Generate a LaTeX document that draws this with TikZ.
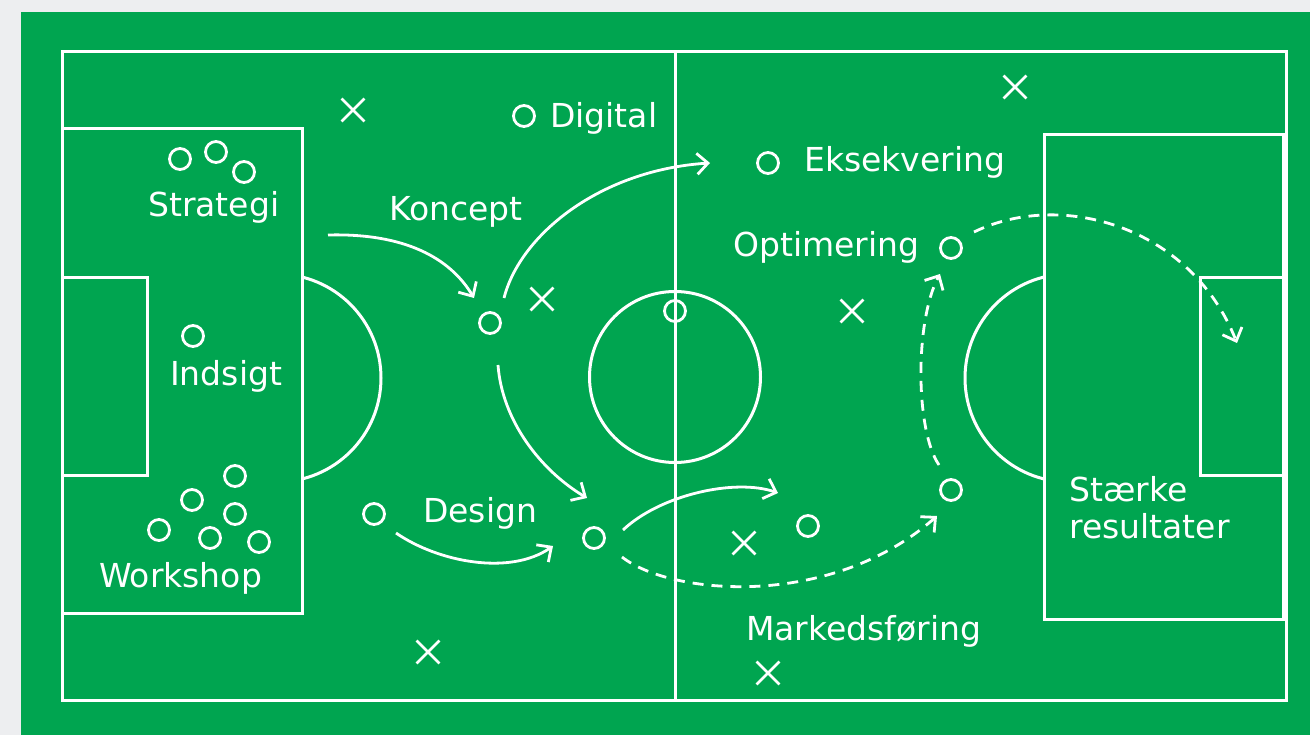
\documentclass[tikz,border=0pt]{standalone}
\usepackage{fontspec}
\setmainfont{DejaVu Sans}
\usetikzlibrary{arrows.meta,shapes.misc}
\definecolor{pitch}{RGB}{0,165,80}
\definecolor{bggray}{RGB}{237,238,240}
\tikzset{
  fieldline/.style={draw=white, line width=3pt},
  player/.style={circle, draw=white, line width=2.8pt, minimum size=21pt, inner sep=0pt},
  xmark/.style={cross out, draw=white, line width=2.8pt, minimum size=20pt, inner sep=0pt},
  lbl/.style={text=white, inner sep=0pt, anchor=base west, font=\fontsize{33}{37}\selectfont},
  runarrow/.style={draw=white, line width=2.8pt, -{Straight Barb[length=11pt,width=21pt]}},
  passarrow/.style={runarrow, dash pattern=on 11pt off 8pt}
}
\begin{document}
\begin{tikzpicture}[x=1pt,y=-1pt]
\useasboundingbox (0,0) rectangle (1310,735);
\fill[bggray] (0,0) rectangle (1310,735);
\fill[pitch] (21,12) rectangle (1310,735);
% field markings
\draw[fieldline] (62,52) rectangle (1286,700);
\draw[fieldline] (675,52) -- (675,700);
\draw[fieldline] (675,377) circle (85.5);
\draw[fieldline] (62,129) rectangle (302,613);
\draw[fieldline] (62,278) rectangle (147,475);
\draw[fieldline] (1044,135) rectangle (1283,619);
\draw[fieldline] (1200,278) rectangle (1283,475);
\begin{scope}
  \clip (302,0) rectangle (675,735);
  \draw[fieldline] (277,378) circle (104);
\end{scope}
\begin{scope}
  \clip (0,0) rectangle (1044,735);
  \draw[fieldline] (1069,378) circle (104);
\end{scope}
% players
\node[player] (s1) at (180,159) {};
\node[player] (s2) at (216,152) {};
\node[player] (s3) at (244,172) {};
\node[player] (ind) at (193,336) {};
\node[player] (w1) at (235,476) {};
\node[player] (w2) at (192,500) {};
\node[player] (w3) at (235,514) {};
\node[player] (w4) at (159,530) {};
\node[player] (w5) at (210,538) {};
\node[player] (w6) at (259,542) {};
\node[player] (kon) at (490,323) {};
\node[player] (dig) at (524,116) {};
\node[player] (eks) at (768,163) {};
\node[player] (opt) at (951,248) {};
\node[player] (mid) at (675,311) {};
\node[player] (des1) at (374,514) {};
\node[player] (des2) at (594,538) {};
\node[player] (mk1) at (808,526) {};
\node[player] (mk2) at (951,490) {};
% opponents
\node[xmark] (x1) at (353,110) {};
\node[xmark] (x2) at (542,299) {};
\node[xmark] (x3) at (428,652) {};
\node[xmark] (x4) at (852,311) {};
\node[xmark] (x5) at (1015,87) {};
\node[xmark] (x6) at (744,543) {};
\node[xmark] (x7) at (768,673) {};
% labels
\node[lbl] (tStrategi) at (148,217) {Strategi};
\node[lbl] (tIndsigt) at (170,386) {Indsigt};
\node[lbl] (tWorkshop) at (99,587) {Workshop};
\node[lbl] (tKoncept) at (389,221) {Koncept};
\node[lbl] (tDigital) at (550,128) {Digital};
\node[lbl] (tEks) at (804,172) {Eksekvering};
\node[lbl] (tOpt) at (733,257) {Optimering};
\node[lbl] (tDesign) at (423,522) {Design};
\node[lbl] (tMark) at (746,640) {Markedsføring};
\node[lbl] (tStaerke) at (1069,501) {Stærke};
\node[lbl] (tRes) at (1069,538) {resultater};
% arrow end points
\coordinate (a1s) at (328,235);
\coordinate (a1e) at (474,298);
\coordinate (a2s) at (504,298);
\coordinate (a2e) at (710,163);
\coordinate (a3s) at (498,365);
\coordinate (a3e) at (587,498);
\coordinate (a4s) at (396,533);
\coordinate (a4e) at (553,546);
\coordinate (a5s) at (623,530);
\coordinate (a5e) at (778,493);
\coordinate (a6s) at (622,557);
\coordinate (a6e) at (937,516);
\coordinate (a7s) at (939,465);
\coordinate (a7e) at (940,274);
\coordinate (a8s) at (974,232);
\coordinate (a8e) at (1237,343);
% runs
\draw[runarrow] (a1s) .. controls (405,233) and (450,258) .. (a1e);
\draw[runarrow] (a2s) .. controls (520,235) and (600,170) .. (a2e);
\draw[runarrow] (a3s) .. controls (502,420) and (540,470) .. (a3e);
\draw[runarrow] (a4s) .. controls (438,562) and (510,576) .. (a4e);
\draw[runarrow] (a5s) .. controls (660,495) and (735,478) .. (a5e);
% passes
\draw[passarrow] (a6s) .. controls (670,595) and (830,610) .. (a6e);
\draw[passarrow] (a7s) .. controls (915,430) and (915,320) .. (a7e);
\draw[passarrow] (a8s) .. controls (1060,190) and (1190,225) .. (a8e);
\end{tikzpicture}
\end{document}
